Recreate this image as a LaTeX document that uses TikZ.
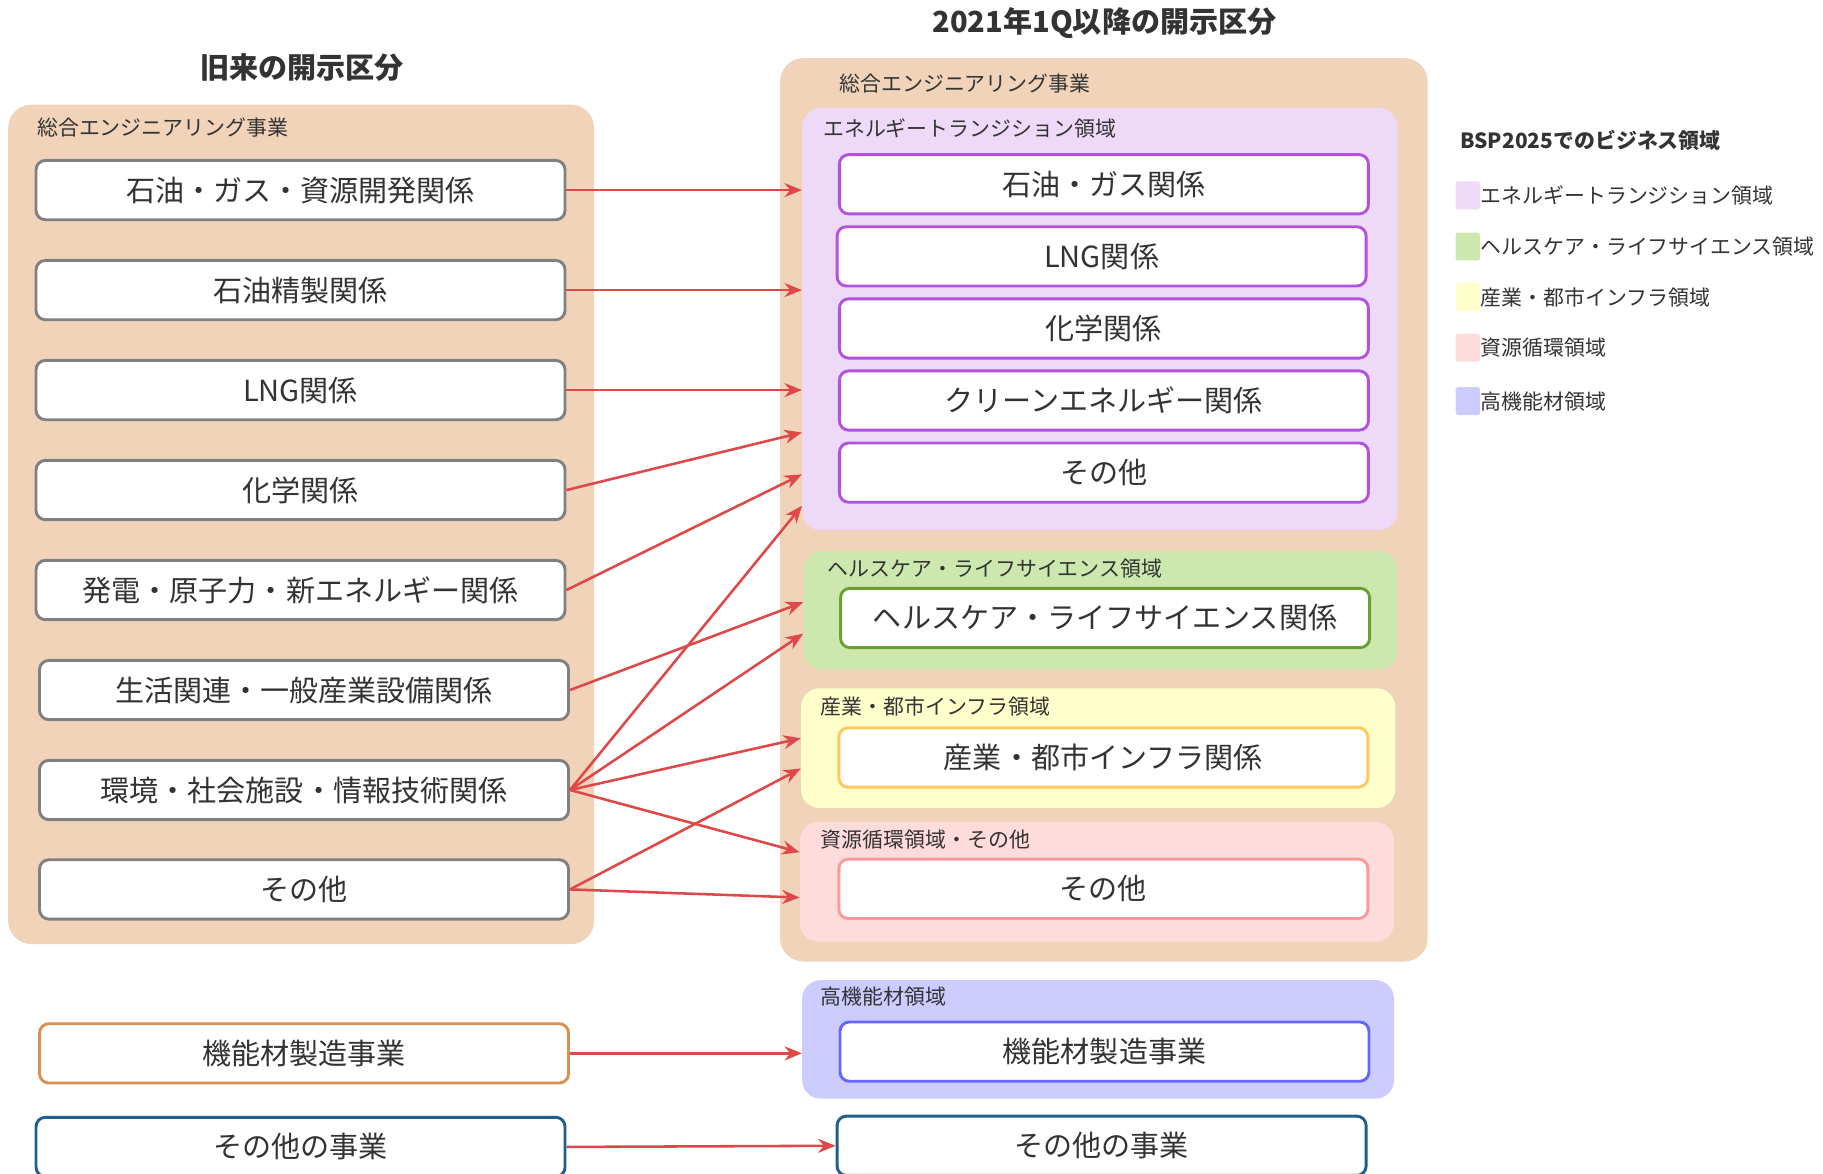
\documentclass[tikz,border=0pt]{standalone}
\usepackage{fontspec}
\setmainfont{Noto Sans CJK JP}
\usetikzlibrary{positioning, arrows.meta, calc}
\definecolor{ink}{RGB}{51,51,51}
\definecolor{peach}{RGB}{240,211,184}
\definecolor{oldgray}{RGB}{128,128,128}
\definecolor{energyfill}{RGB}{238,218,248}
\definecolor{energyline}{RGB}{178,82,222}
\definecolor{healthfill}{RGB}{204,232,174}
\definecolor{healthline}{RGB}{106,160,48}
\definecolor{infrafill}{RGB}{255,255,204}
\definecolor{infraline}{RGB}{255,200,96}
\definecolor{cyclefill}{RGB}{255,220,220}
\definecolor{cycleline}{RGB}{255,153,153}
\definecolor{funcfill}{RGB}{204,204,255}
\definecolor{funcline}{RGB}{102,102,255}
\definecolor{mfgline}{RGB}{217,144,80}
\definecolor{otherline}{RGB}{31,95,143}
\definecolor{linkred}{RGB}{222,72,72}

\begin{document}
\begin{tikzpicture}[x=1pt, y=-1pt,
  segbox/.style={
    rectangle, rounded corners=8pt, fill=white, line width=2.5pt,
    minimum width=455pt, minimum height=51pt, inner sep=0pt,
    font=\fontsize{25}{30}\selectfont, text=ink
  },
  oldbox/.style={segbox, draw=oldgray},
  area/.style={rectangle, rounded corners=16pt, inner sep=0pt},
  tag/.style={anchor=west, inner sep=0pt, font=\fontsize{18}{22}\selectfont, text=ink},
  heading/.style={inner sep=0pt, font=\fontsize{25}{30}\selectfont\bfseries, text=ink},
  swatch/.style={rectangle, rounded corners=2pt, minimum width=21pt, minimum height=24pt, inner sep=0pt},
  link/.style={-{Stealth[length=15pt,width=12pt]}, line width=2.2pt, linkred}
]
\useasboundingbox (0,0) rectangle (1568,1009);
\clip (0,0) rectangle (1568,1009);

% titles
\node[heading] (oldtitle) at (260,58) {旧来の開示区分};
\node[heading] (newtitle) at (950,20) {2021年1Q以降の開示区分};

% containers
\node[area, rounded corners=20pt, fill=peach, minimum width=504pt, minimum height=722pt] (oldeng) at (259,451) {};
\node[area, rounded corners=20pt, fill=peach, minimum width=557pt, minimum height=777pt] (neweng) at (949.5,438.5) {};
\node[tag] at ($(oldeng.north west)+(25,20)$) {総合エンジニアリング事業};
\node[tag] at ($(neweng.north west)+(51,22)$) {総合エンジニアリング事業};

% new areas
\node[area, fill=energyfill, minimum width=512pt, minimum height=363pt] (en) at (946,274.5) {};
\node[area, fill=healthfill, minimum width=511pt, minimum height=102pt] (hl) at (946.5,525) {};
\node[area, fill=infrafill, minimum width=511pt, minimum height=103pt] (inf) at (944.5,643.5) {};
\node[area, fill=cyclefill, minimum width=511pt, minimum height=103pt] (cyc) at (943.5,758.5) {};
\node[area, fill=funcfill, minimum width=509pt, minimum height=102pt] (fn) at (944.5,894) {};
\node[tag] at ($(en.north west)+(18,18)$) {エネルギートランジション領域};
\node[tag] at ($(hl.north west)+(21,15)$) {ヘルスケア・ライフサイエンス領域};
\node[tag] at ($(inf.north west)+(17,16)$) {産業・都市インフラ領域};
\node[tag] at ($(cyc.north west)+(18,15)$) {資源循環領域・その他};
\node[tag] at ($(fn.north west)+(16,14)$) {高機能材領域};

% old segments
\node[oldbox] (l1) at (258.5,163.5) {石油・ガス・資源開発関係};
\node[oldbox, below=32.5pt of l1] (l2) {石油精製関係};
\node[oldbox, below=32.5pt of l2] (l3) {LNG関係};
\node[oldbox, below=32.5pt of l3] (l4) {化学関係};
\node[oldbox, below=32.5pt of l4] (l5) {発電・原子力・新エネルギー関係};
\node[oldbox, below=32.5pt of l5, xshift=3pt] (l6) {生活関連・一般産業設備関係};
\node[oldbox, below=32.5pt of l6] (l7) {環境・社会施設・情報技術関係};
\node[oldbox, below=32pt of l7] (l8) {その他};
\node[segbox, draw=mfgline] (m1) at (261.5,906) {機能材製造事業};
\node[segbox, draw=otherline] (o1) at (258.5,986.5) {その他の事業};

% new segments
\node[segbox, draw=energyline] (r1) at (949.5,158.5) {石油・ガス関係};
\node[segbox, draw=energyline, below=8.5pt of r1, xshift=-2pt] (r2) {LNG関係};
\node[segbox, draw=energyline, below=8.5pt of r2, xshift=2pt] (r3) {化学関係};
\node[segbox, draw=energyline, below=8.5pt of r3] (r4) {クリーンエネルギー関係};
\node[segbox, draw=energyline, below=8.5pt of r4] (r5) {その他};
\node[segbox, draw=healthline] (r6) at (950.5,531.5) {ヘルスケア・ライフサイエンス関係};
\node[segbox, draw=infraline] (r7) at (949,651.5) {産業・都市インフラ関係};
\node[segbox, draw=cycleline] (r8) at (949,764.5) {その他};
\node[segbox, draw=funcline] (m2) at (950,904.5) {機能材製造事業};
\node[segbox, draw=otherline] (o2) at (947.5,985.5) {その他の事業};

% legend
\node[heading, anchor=west, font=\fontsize{18}{22}\selectfont\bfseries] (legtitle) at (1256,121) {BSP2025でのビジネス領域};
\node[swatch, fill=energyfill] (k1) at (1262.5,168) {};
\node[swatch, fill=healthfill] (k2) at (1262.5,212) {};
\node[swatch, fill=infrafill] (k3) at (1262.5,255.5) {};
\node[swatch, fill=cyclefill] (k4) at (1262.5,299) {};
\node[swatch, fill=funcfill] (k5) at (1262.5,345) {};
\node[tag, right=0pt of k1] {エネルギートランジション領域};
\node[tag, right=0pt of k2] {ヘルスケア・ライフサイエンス領域};
\node[tag, right=0pt of k3] {産業・都市インフラ領域};
\node[tag, right=0pt of k4] {資源循環領域};
\node[tag, right=0pt of k5] {高機能材領域};

% links
\draw[link] (l1.east) -- (l1.east -| en.west);
\draw[link] (l2.east) -- (l2.east -| en.west);
\draw[link] (l3.east) -- (l3.east -| en.west);
\draw[link] (l4.east) -- (en.west |- 0,372);
\draw[link] (l5.east) -- (en.west |- 0,408);
\draw[link] (l6.east) -- (hl.west |- 0,518);
\draw[link] (l7.east) -- (en.west |- 0,435);
\draw[link] (l7.east) -- (hl.west |- 0,545);
\draw[link] (l7.east) -- (inf.west |- 0,635);
\draw[link] (l7.east) -- (cyc.west |- 0,733);
\draw[link] (l8.east) -- (inf.west |- 0,661);
\draw[link] (l8.east) -- (cyc.west |- 0,772);
\draw[link] (m1.east) -- (m1.east -| fn.west);
\draw[link] (o1.east) -- (o2.west);

\end{tikzpicture}
\end{document}
